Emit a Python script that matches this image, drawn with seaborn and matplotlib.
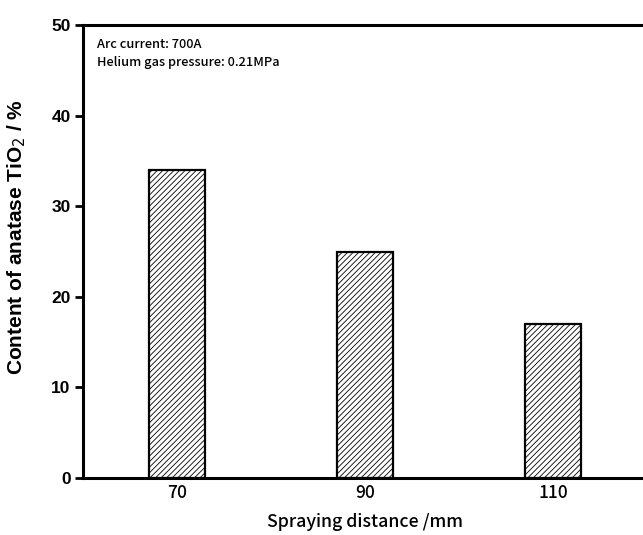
import matplotlib
matplotlib.use("Agg")
import matplotlib.pyplot as plt
import seaborn as sns
import pandas as pd

distances = ["70", "90", "110"]
anatase = [34, 25, 17]
yticks = [0, 10, 20, 30, 40, 50]

sns.set_style("ticks")
plt.rcParams['hatch.linewidth'] = 0.6
for k in ["text.color", "axes.labelcolor", "xtick.color", "ytick.color", "axes.edgecolor"]:
    plt.rcParams[k] = "black"

gothic = ["Noto Sans CJK JP", "DejaVu Sans"]
arial = ["Liberation Sans", "DejaVu Sans"]

df = pd.DataFrame({"distance": distances, "anatase": anatase})

fig = plt.figure(figsize=(6.43, 5.35), dpi=100)
ax = fig.add_axes([83/643, 57/535, 564/643, 453/535])

sns.barplot(data=df, x="distance", y="anatase", order=distances, color="white",
            edgecolor="black", linewidth=1.6, width=0.3, hatch="//////", ax=ax)

ax.set_xlim(-0.5, 2.5)
ax.set_ylim(0, 50)
ax.set_yticks(yticks)
ax.set_yticklabels([str(t) for t in yticks], fontsize=12.5, fontweight="bold", family=arial)
ax.set_xticks(range(len(distances)))
ax.set_xticklabels(distances, fontsize=12.5, fontweight="medium", family=gothic)
ax.tick_params(axis="x", length=0, pad=4)
ax.tick_params(axis="y", direction="out", length=6, width=2, pad=3)

for s in ["left", "bottom", "top", "right"]:
    ax.spines[s].set_linewidth(2.2)

ax.set_xlabel("Spraying distance /mm", fontsize=12.8, fontweight="medium", family=gothic)
ax.xaxis.set_label_coords(0.5, -0.078)
ax.set_ylabel("Content of anatase TiO$_2$ / %", fontsize=15, fontweight="bold", family=arial)
ax.yaxis.set_label_coords(-0.0975, 0.532)

ax.text(0.025, 0.972, "Arc current: 700A\nHelium gas pressure: 0.21MPa",
        transform=ax.transAxes, va="top", ha="left", fontsize=9.2, linespacing=1.5,
        fontweight="medium", family=gothic)

fig.savefig("out.png", dpi=100)
